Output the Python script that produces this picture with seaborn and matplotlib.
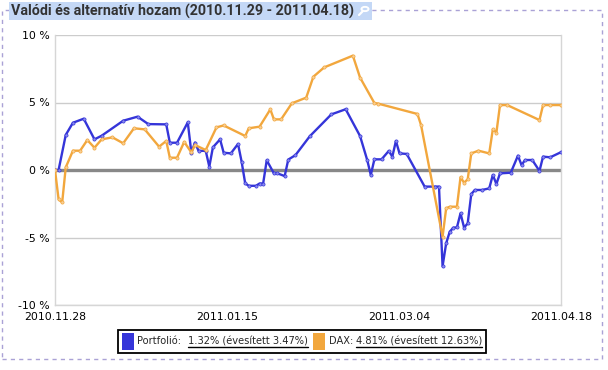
import matplotlib
matplotlib.use('Agg')
import matplotlib.pyplot as plt
from matplotlib.patches import Rectangle, Circle
from matplotlib.lines import Line2D
import pandas as pd
import seaborn as sns

# Portfolió hozam (%)
portfolio_dates = ['2010-11-28', '2010-11-29', '2010-12-01', '2010-12-03', '2010-12-06', '2010-12-09',
                   '2010-12-11', '2010-12-17', '2010-12-21', '2010-12-24', '2010-12-29', '2010-12-30',
                   '2011-01-01', '2011-01-04', '2011-01-05', '2011-01-06', '2011-01-07', '2011-01-09',
                   '2011-01-10', '2011-01-11', '2011-01-13', '2011-01-14', '2011-01-16', '2011-01-18',
                   '2011-01-19', '2011-01-20', '2011-01-21', '2011-01-23', '2011-01-24', '2011-01-25',
                   '2011-01-26', '2011-01-28', '2011-01-29', '2011-01-31', '2011-02-01', '2011-02-03',
                   '2011-02-07', '2011-02-13', '2011-02-17', '2011-02-21', '2011-02-23', '2011-02-24',
                   '2011-02-25', '2011-02-27', '2011-03-01', '2011-03-02', '2011-03-03', '2011-03-04',
                   '2011-03-06', '2011-03-11', '2011-03-14', '2011-03-15', '2011-03-16', '2011-03-17',
                   '2011-03-18', '2011-03-19', '2011-03-20', '2011-03-21', '2011-03-22', '2011-03-23',
                   '2011-03-24', '2011-03-25', '2011-03-27', '2011-03-29', '2011-03-30', '2011-03-31',
                   '2011-04-01', '2011-04-04', '2011-04-06', '2011-04-07', '2011-04-08', '2011-04-10',
                   '2011-04-12', '2011-04-13', '2011-04-15', '2011-04-18']
portfolio_values = [0.0, 0.0, 2.6, 3.5, 3.8, 2.27,
                    2.54, 3.65, 3.95, 3.4, 3.38, 2.02,
                    2.02, 3.53, 1.28, 2.03, 1.42, 1.42,
                    0.25, 1.68, 2.27, 1.28, 1.23, 1.93,
                    0.62, -0.99, -1.17, -1.17, -1.0, -1.0,
                    0.72, -0.25, -0.25, -0.45, 0.77, 1.1,
                    2.5, 4.12, 4.5, 2.52, 0.74, -0.37,
                    0.79, 0.79, 1.41, 0.99, 2.15, 1.23,
                    1.19, -1.23, -1.23, -1.23, -7.13, -5.43,
                    -4.57, -4.27, -4.25, -3.21, -4.27, -3.95,
                    -1.78, -1.48, -1.48, -1.36, -0.37, -1.04,
                    -0.25, -0.2, 1.06, 0.37, 0.74, 0.74,
                    -0.07, 0.99, 0.94, 1.32]

# DAX hozam (%)
dax_dates = ['2010-11-28', '2010-11-29', '2010-11-30', '2010-12-01', '2010-12-03', '2010-12-05',
             '2010-12-07', '2010-12-09', '2010-12-11', '2010-12-14', '2010-12-17', '2010-12-20',
             '2010-12-23', '2010-12-27', '2010-12-29', '2010-12-30', '2011-01-01', '2011-01-03',
             '2011-01-05', '2011-01-06', '2011-01-09', '2011-01-12', '2011-01-14', '2011-01-20',
             '2011-01-21', '2011-01-24', '2011-01-27', '2011-01-28', '2011-01-30', '2011-02-02',
             '2011-02-06', '2011-02-08', '2011-02-11', '2011-02-19', '2011-02-21', '2011-02-25',
             '2011-02-26', '2011-03-09', '2011-03-10', '2011-03-16', '2011-03-17', '2011-03-18',
             '2011-03-20', '2011-03-21', '2011-03-22', '2011-03-23', '2011-03-24', '2011-03-26',
             '2011-03-29', '2011-03-30', '2011-03-31', '2011-04-01', '2011-04-03', '2011-04-12',
             '2011-04-13', '2011-04-15', '2011-04-18']
dax_values = [0.0, -2.17, -2.4, 0.2, 1.43, 1.43,
              2.22, 1.65, 2.27, 2.42, 1.98, 3.09,
              3.01, 1.73, 2.15, 0.91, 0.91, 2.08,
              1.3, 1.85, 1.48, 3.16, 3.3, 2.52,
              3.09, 3.21, 4.49, 3.75, 3.75, 4.94,
              5.36, 6.91, 7.6, 8.47, 6.85, 4.96,
              4.92, 4.15, 3.33, -4.94, -2.84, -2.72,
              -2.72, -0.54, -0.94, -0.69, 1.23, 1.43,
              1.23, 3.01, 2.77, 4.81, 4.81, 3.7,
              4.81, 4.81, 4.81]

x_ticks = ['2010-11-28', '2011-01-15', '2011-03-04', '2011-04-18']
y_ticks = [-10, -5, 0, 5, 10]

title = 'Valódi és alternatív hozam (2010.11.29 - 2011.04.18)'
legend_items = [('Portfolió:', '1.32% (évesített 3.47%)'),
                ('DAX:', '4.81% (évesített 12.63%)')]

blue = '#3535d9'
orange = '#f2a73d'

sns.set_style('white')
plt.rcParams['font.family'] = ['DejaVu Sans']

W, H = 608, 370


def fx(x):
    return x / W


def fy(y):
    return 1 - y / H


def fit_width(t, target, renderer):
    # shrink/grow the font so the text spans the measured reference width
    w = t.get_window_extent(renderer).width
    t.set_fontsize(t.get_fontsize() * target / w)
    return t.get_window_extent(renderer)


fig = plt.figure(figsize=(W / 100, H / 100), dpi=100)
ax = fig.add_axes([fx(55), fy(305), 506 / W, 270 / H])

df_p = pd.DataFrame({'datum': pd.to_datetime(portfolio_dates), 'hozam': portfolio_values})
df_d = pd.DataFrame({'datum': pd.to_datetime(dax_dates), 'hozam': dax_values})

for v in y_ticks:
    if v == 0:
        continue
    ax.axhline(v, color='#cccccc', lw=1, zorder=1)
ax.axhline(0, color='#888888', lw=2.4, zorder=1)

sns.lineplot(data=df_p, x='datum', y='hozam', ax=ax, color=blue, lw=1.7,
             marker='o', markersize=2.3, markerfacecolor='#8a8aee', markeredgecolor=blue,
             markeredgewidth=0.5, zorder=3)
sns.lineplot(data=df_d, x='datum', y='hozam', ax=ax, color=orange, lw=1.7,
             marker='o', markersize=2.3, markerfacecolor='#f8cf96', markeredgecolor=orange,
             markeredgewidth=0.5, zorder=3)

ax.set_xlim(pd.Timestamp(x_ticks[0]), pd.Timestamp(x_ticks[-1]))
ax.set_ylim(-10, 10)
ax.set_yticks(y_ticks)
ax.set_yticklabels([f'{v} %' for v in y_ticks])
ax.set_xticks(pd.to_datetime(x_ticks))
ax.set_xticklabels([pd.Timestamp(d).strftime('%Y.%m.%d') for d in x_ticks])
ax.tick_params(length=0, labelsize=7.8, colors='black', pad=4)
ax.tick_params(axis='x', pad=5)
ax.set_xlabel('')
ax.set_ylabel('')
for s in ['left', 'right', 'bottom']:
    ax.spines[s].set_color('#d6d6d6')
    ax.spines[s].set_linewidth(1)
ax.spines['top'].set_visible(False)

fig.canvas.draw()
renderer = fig.canvas.get_renderer()

# dashed outer frame
fig.patches.append(Rectangle((fx(2), fy(359)), fx(600), 349 / H, transform=fig.transFigure,
                             fill=False, ec='#aaa2d6', lw=1, ls=(0, (3, 3))))

# title with highlighted background
fig.patches.append(Rectangle((fx(9), fy(20)), fx(363), 18 / H, transform=fig.transFigure,
                             fc='#c4d8f6', ec='none', zorder=2))
tt = fig.text(fx(11), fy(11.5), title, fontsize=10, fontweight='bold', color='#333333',
              va='center', ha='left', zorder=3, family='Roboto')
fit_width(tt, 344, renderer)
fig.patches.append(Circle((fx(365), fy(9)), 3.5 / W, transform=fig.transFigure,
                          fill=False, ec='white', lw=1.4, zorder=4))
fig.lines.append(Line2D([fx(362.5), fx(359)], [fy(11.5), fy(15)], transform=fig.transFigure,
                        color='white', lw=1.6, zorder=4))

# legend box
fig.patches.append(Rectangle((fx(118), fy(353)), fx(368), 23 / H, transform=fig.transFigure,
                             fill=False, ec='black', lw=1.3))
ymid = 341.5
patch_x = [122, 313]
name_x = [137, 329]
value_x = [188, 356]

# one font size for the whole legend, fitted to the first value's width
probe = fig.text(0, 0, legend_items[0][1], fontsize=7.5)
fit_width(probe, 120, renderer)
leg_size = probe.get_fontsize()
probe.remove()

for i, ((name, value), color) in enumerate(zip(legend_items, [blue, orange])):
    fig.patches.append(Rectangle((fx(patch_x[i]), fy(ymid + 8.5)), 12 / W, 17 / H,
                                 transform=fig.transFigure, fc=color, ec='none'))
    fig.text(fx(name_x[i]), fy(ymid), name, fontsize=leg_size, va='center', ha='left')
    t2 = fig.text(fx(value_x[i]), fy(ymid), value, fontsize=leg_size, va='center', ha='left')
    bb = t2.get_window_extent(renderer)
    fig.lines.append(Line2D([bb.x0 / W, bb.x1 / W], [(bb.y0 - 0.5) / H] * 2,
                            transform=fig.transFigure, color='black', lw=1))

fig.savefig('out.png', dpi=100)
